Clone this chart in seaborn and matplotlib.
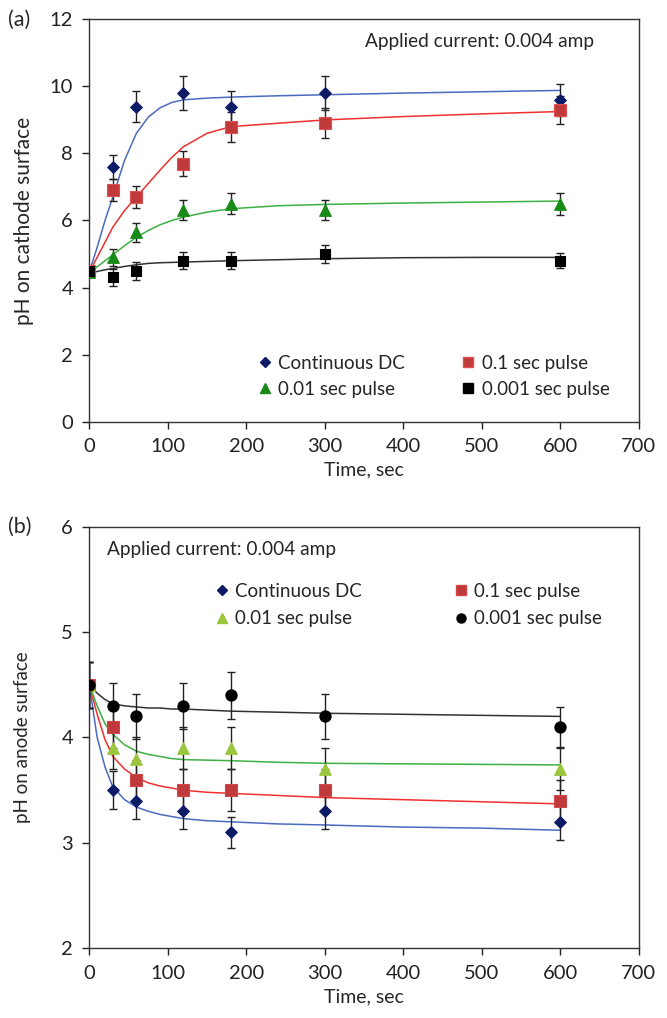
import matplotlib
matplotlib.use("Agg")
import matplotlib.pyplot as plt
import seaborn as sns
import pandas as pd
import numpy as np

## data
time = [0, 30, 60, 120, 180, 300, 600]
series = ["Continuous DC", "0.1 sec pulse", "0.01 sec pulse", "0.001 sec pulse"]

# (a) cathode
dc_a = [4.5, 7.6, 9.4, 9.8, 9.4, 9.8, 9.6]
dc_a_err = [0.15, 0.35, 0.47, 0.5, 0.45, 0.5, 0.48]
p1_a = [4.5, 6.9, 6.7, 7.7, 8.8, 8.9, 9.3]
p1_a_err = [0.15, 0.33, 0.33, 0.37, 0.45, 0.45, 0.42]
p01_a = [4.45, 4.9, 5.65, 6.3, 6.5, 6.3, 6.5]
p01_a_err = [0.15, 0.25, 0.28, 0.3, 0.32, 0.3, 0.33]
p001_a = [4.5, 4.3, 4.5, 4.8, 4.8, 5.0, 4.8]
p001_a_err = [0.15, 0.25, 0.27, 0.25, 0.25, 0.26, 0.22]

# (b) anode
dc_b = [4.5, 3.5, 3.4, 3.3, 3.1, 3.3, 3.2]
dc_b_err = [0.22, 0.18, 0.17, 0.17, 0.15, 0.17, 0.17]
p1_b = [4.5, 4.1, 3.6, 3.5, 3.5, 3.5, 3.4]
p1_b_err = [0.22, 0.2, 0.19, 0.2, 0.2, 0.2, 0.2]
p01_b = [4.5, 3.9, 3.8, 3.9, 3.9, 3.7, 3.7]
p01_b_err = [0.22, 0.2, 0.2, 0.2, 0.2, 0.2, 0.2]
p001_b = [4.5, 4.3, 4.2, 4.3, 4.4, 4.2, 4.1]
p001_b_err = [0.22, 0.22, 0.21, 0.22, 0.22, 0.21, 0.19]

# fitted trend lines
fit_t = [0, 10, 20, 30, 45, 60, 75, 90, 105, 120, 150, 180, 240, 300, 400, 500, 600]
dc_fit_a = [4.46, 5.2, 6.0, 6.7, 7.8, 8.6, 9.08, 9.36, 9.52, 9.6, 9.65, 9.68, 9.72, 9.75, 9.8, 9.84, 9.88]
p1_fit_a = [4.46, 4.9, 5.35, 5.8, 6.3, 6.7, 7.1, 7.5, 7.88, 8.2, 8.6, 8.8, 8.9, 9.0, 9.1, 9.18, 9.25]
p01_fit_a = [4.45, 4.62, 4.8, 4.98, 5.25, 5.5, 5.7, 5.87, 6.0, 6.1, 6.25, 6.35, 6.44, 6.48, 6.52, 6.55, 6.58]
p001_fit_a = [4.42, 4.48, 4.53, 4.57, 4.63, 4.68, 4.72, 4.74, 4.75, 4.76, 4.78, 4.8, 4.83, 4.86, 4.89, 4.9, 4.9]

dc_fit_b = [4.5, 4.0, 3.72, 3.53, 3.41, 3.34, 3.3, 3.27, 3.25, 3.23, 3.21, 3.2, 3.18, 3.17, 3.15, 3.14, 3.12]
p1_fit_b = [4.5, 4.22, 3.98, 3.82, 3.7, 3.62, 3.57, 3.54, 3.52, 3.5, 3.48, 3.47, 3.45, 3.43, 3.41, 3.39, 3.37]
p01_fit_b = [4.5, 4.3, 4.13, 4.03, 3.93, 3.87, 3.84, 3.82, 3.8, 3.79, 3.785, 3.78, 3.765, 3.755, 3.75, 3.745, 3.74]
p001_fit_b = [4.5, 4.42, 4.36, 4.32, 4.3, 4.29, 4.28, 4.28, 4.27, 4.27, 4.26, 4.25, 4.24, 4.23, 4.22, 4.21, 4.2]

## style
sns.set_style("ticks")
plt.rcParams['font.family'] = ['Lato', 'DejaVu Sans']
plt.rcParams['axes.edgecolor'] = '#333333'
plt.rcParams['axes.linewidth'] = 1.0

fig = plt.figure(figsize=(6.67, 10.18), dpi=100)
ax1 = fig.add_axes([0.1339, 0.5858, 0.8234, 0.3952])
ax2 = fig.add_axes([0.1339, 0.0685, 0.8234, 0.4141])


def draw_panel(ax, pts, errs, fits, markers, mcolors, ecolors, lcolors, sizes):
    # trend lines
    for name, fy, lc in zip(series, fits, lcolors):
        df = pd.DataFrame({"t": fit_t, "ph": fy})
        sns.lineplot(data=df, x="t", y="ph", ax=ax, color=lc, lw=1.1,
                     sort=False, estimator=None, zorder=2)
    # error bars
    for y, e in zip(pts, errs):
        ax.errorbar(time, y, yerr=e, fmt='none', ecolor='#222222',
                    elinewidth=1.0, capsize=3, capthick=1.0, zorder=3)
    # points
    handles = []
    for name, y, m, mc, ec, s in zip(series, pts, markers, mcolors, ecolors, sizes):
        df = pd.DataFrame({"t": time, "ph": y})
        sns.scatterplot(data=df, x="t", y="ph", ax=ax, marker=m, s=s,
                        color=mc, edgecolor=ec, linewidth=0.8, zorder=4)
        handles.append(plt.Line2D([], [], ls='none', marker=m, color=mc,
                                  markeredgecolor=ec,
                                  markersize=5 if m == 'D' else 6.5, label=name))
    return handles


h1 = draw_panel(ax1, [dc_a, p1_a, p01_a, p001_a],
                [dc_a_err, p1_a_err, p01_a_err, p001_a_err],
                [dc_fit_a, p1_fit_a, p01_fit_a, p001_fit_a],
                ['D', 's', '^', 's'],
                ['#0d1a66', '#c0393b', '#178a17', '#000000'],
                ['#0d1a66', '#e05050', '#178a17', '#000000'],
                ['#4a6bbd', '#f03030', '#3cb043', '#333333'],
                [35, 70, 70, 60])

h2 = draw_panel(ax2, [dc_b, p1_b, p01_b, p001_b],
                [dc_b_err, p1_b_err, p01_b_err, p001_b_err],
                [dc_fit_b, p1_fit_b, p01_fit_b, p001_fit_b],
                ['D', 's', '^', 'o'],
                ['#0d1a66', '#c0393b', '#9bc53d', '#000000'],
                ['#0d1a66', '#d04848', '#9bc53d', '#000000'],
                ['#4a6bbd', '#f03030', '#3cb043', '#333333'],
                [35, 70, 70, 65])

for ax, ylim, yt in [(ax1, (0, 12), np.arange(0, 13, 2)),
                     (ax2, (2, 6), np.arange(2, 7, 1))]:
    ax.set_xlim(0, 700)
    ax.set_ylim(*ylim)
    ax.set_xticks(np.arange(0, 701, 100))
    ax.set_yticks(yt)
    ax.tick_params(direction='out', length=4.7, width=1, pad=7,
                   labelsize=14.5, colors='#222222')
    ax.set_xlabel("Time, sec", fontsize=14, labelpad=5)
    for s in ax.spines.values():
        s.set_visible(True)

ax1.set_ylabel("pH on cathode surface", fontsize=15, labelpad=11)
ax2.set_ylabel("pH on anode surface", fontsize=13.5, labelpad=22)

ax1.legend(handles=[h1[0], h1[2], h1[1], h1[3]], ncol=2, frameon=False,
           loc='upper left', bbox_to_anchor=(0.306, 0.1668), fontsize=13.5,
           borderaxespad=0, borderpad=0,
           handlelength=0.8, handletextpad=0.3, columnspacing=3.0,
           labelspacing=0.5)
ax2.legend(handles=[h2[0], h2[2], h2[1], h2[3]], ncol=2, frameon=False,
           loc='upper left', bbox_to_anchor=(0.228, 0.867), fontsize=13.5,
           borderaxespad=0, borderpad=0,
           handlelength=0.8, handletextpad=0.3, columnspacing=4.9,
           labelspacing=0.55)

ax1.text(0.502, 0.946, "Applied current: 0.004 amp", transform=ax1.transAxes,
         fontsize=13.7, va='center', ha='left')
ax2.text(0.032, 0.945, "Applied current: 0.004 amp", transform=ax2.transAxes,
         fontsize=13.7, va='center', ha='left')

fig.text(8 / 667, 1 - 20 / 1018, "(a)", fontsize=15.5, va='center', ha='left')
fig.text(8 / 667, 1 - 527 / 1018, "(b)", fontsize=15.5, va='center', ha='left')

fig.savefig("out.png", dpi=100)
